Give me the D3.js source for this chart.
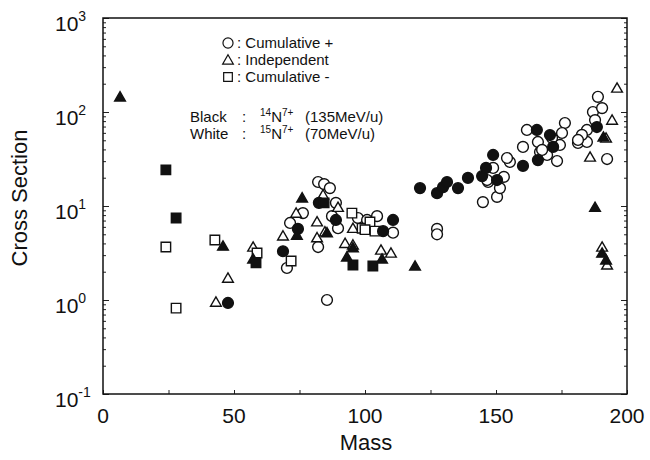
<!DOCTYPE html>
<html>
<head>
<meta charset="utf-8">
<script src="https://cdn.jsdelivr.net/npm/d3@7"></script>
<style>
  body { margin: 0; background: #fff; }
  svg text { font-family: "Liberation Sans", Arial, Helvetica, sans-serif; fill: #111; }
</style>
</head>
<body>
<div id="chart"></div>
<script>
// tick labels
var xTickVals = [0, 50, 100, 150, 200];
var yTickExps = [-1, 0, 1, 2, 3];

// 14N (black) series: [mass, cross section]
var n14CumPlus = [[47.7,0.93],[68.7,3.3],[74.4,5.7],[82.4,10.8],[88.9,7.1],[106.9,5.4],[110.7,7.1],
  [121,15.5],[127.5,13.7],[129.8,15.9],[131.3,18],[135.5,15.5],[139.3,19.9],[144.7,20.8],[146.2,25.4],
  [148.9,34.9],[150.4,18.9],[160.3,26.7],[166,30.8],[171.8,42.5],[165.6,64.4],[170.6,56.9],[188.5,69.2]];
var n14Indep = [[6.5,145],[45.8,3.75],[57.3,2.73],[74,4.9],[76,12.2],[85.5,5.2],[93.1,2.87],[95.4,3.6],
  [106.5,2.73],[119.1,2.3],[187.8,9.7],[190.5,3.16],[192,2.67],[191,54.2]];
var n14CumMinus = [[24,24.2],[27.9,7.45],[58.4,2.48],[84.4,10.8],[95.4,2.36],[103,2.3]];

// 15N (white) series
var n15CumPlus = [[70.2,2.19],[71.4,6.6],[76.3,8.4],[82.1,18],[84.4,17.1],[86.6,15.5],[88.9,10.8],
  [87.4,7.8],[89.7,5.8],[82.1,3.66],[85.5,1.0],[97.3,7.45],[100.8,7.1],[104.6,7.8],[110.7,5.2],
  [127.5,5.7],[127.5,5.0],[145,11],[150.4,12.5],[151.5,15.5],[147,18],[148.9,25.4],[155.3,29.4],
  [153,20.4],[146.6,18.9],[160.3,42.5],[166,48],[166.8,37.5],[169.5,34.9],[173.3,30.1],[174.4,44.6],
  [181.3,46.8],[184.7,48],[192.4,31.6],[188.9,145],[187,100],[190.5,110],[187.8,82],[184.7,64.4],
  [182.8,57],[181.3,50.4],[176.3,76.4],[175.2,59.8],[171.4,52.9],[161.8,64.4],[167.6,39.5],[154.2,32.4]];
var n15Indep = [[43.1,0.95],[47.7,1.71],[57.3,3.66],[68.7,4.8],[73.7,8.4],[84,13.1],[89.7,9.7],
  [81.7,6.8],[81.7,4.6],[84.7,5.3],[95.4,5.8],[92.4,4.0],[95.4,3.85],[106.1,3.4],[109.9,3.16],
  [185.9,33.2],[196.2,180],[194.3,82],[192,52.9],[190.5,3.66],[192.4,2.36]];
var n15CumMinus = [[24,3.66],[27.9,0.82],[42.7,4.35],[58.8,3.16],[71.8,2.6],[95,8.4],[98.9,5.8],
  [101.9,6.76],[100,5.6],[103.8,5.4]];

var legendItems = ["Cumulative +", "Independent", "Cumulative -"];

var margin = {top: 18, right: 23, bottom: 66, left: 103};
var width = 650 - margin.left - margin.right;
var height = 460 - margin.top - margin.bottom;

var svg = d3.select("#chart").append("svg")
    .attr("width", 650).attr("height", 460);
var g = svg.append("g").attr("transform", "translate(" + margin.left + "," + margin.top + ")");

var x = d3.scaleLinear().domain([0, 200]).range([0, width]);
var y = d3.scaleLog().domain([0.1, 1000]).range([height, 0]);

// minor + major ticks, pointing inward
var minor = y.ticks().filter(function (v) { return yTickExps.indexOf(Math.round(Math.log10(v))) < 0 || Math.abs(Math.log10(v) - Math.round(Math.log10(v))) > 1e-6; });
var majors = yTickExps.map(function (e) { return Math.pow(10, e); });

function yAxisPart(axisFn, vals, size, tx) {
  g.append("g").attr("transform", "translate(" + tx + ",0)")
    .call(axisFn(y).tickValues(vals).tickSize(size).tickFormat(""))
    .call(function (s) { s.select(".domain").remove(); });
}
yAxisPart(d3.axisLeft, minor, -3, 0);
yAxisPart(d3.axisLeft, majors, -6, 0);
yAxisPart(d3.axisRight, minor, -3, width);
yAxisPart(d3.axisRight, majors, -6, width);

g.append("g").attr("transform", "translate(0," + height + ")")
  .call(d3.axisBottom(x).tickValues(d3.range(0, 201, 25)).tickSize(-4).tickFormat(""))
  .call(function (s) { s.select(".domain").remove(); });

g.selectAll(".tick line").attr("stroke", "#222").attr("stroke-width", 1);

// frame
g.append("rect").attr("width", width).attr("height", height)
  .attr("fill", "none").attr("stroke", "#111").attr("stroke-width", 1.5);

// x tick labels
g.selectAll(".xlab").data(xTickVals).enter().append("text")
  .attr("x", function (d) { return x(d); })
  .attr("y", height + 29)
  .attr("text-anchor", "middle")
  .style("font-size", "21px")
  .text(function (d) { return d; });

// y tick labels 10^n
var yl = g.selectAll(".ylab").data(yTickExps).enter().append("text")
  .attr("x", 55 - margin.left)
  .attr("y", function (d) { return y(Math.pow(10, d)) + 13; })
  .style("font-size", "21px");
yl.append("tspan").text("10");
yl.append("tspan").attr("dy", -10).style("font-size", "14px").text(function (d) { return d; });

// axis titles
svg.append("text").attr("x", 366).attr("y", 450).attr("text-anchor", "middle")
  .style("font-size", "22px").text("Mass");
svg.append("text").attr("transform", "translate(27,198) rotate(-90)").attr("text-anchor", "middle")
  .style("font-size", "22px").text("Cross Section");

// symbols
var shapes = {circle: d3.symbol().type(d3.symbolCircle).size(92),
  triangle: d3.symbol().type(d3.symbolTriangle).size(50),
  square: d3.symbol().type(d3.symbolSquare).size(90)};

function drawSeries(data, shape, fill) {
  g.append("g").selectAll("path").data(data).enter().append("path")
    .attr("d", shapes[shape])
    .attr("transform", function (d) {
      var dy = shape === "triangle" ? 1 : 0;
      return "translate(" + x(d[0]) + "," + (y(d[1]) + dy) + ")";
    })
    .attr("fill", fill).attr("stroke", "#111").attr("stroke-width", 1.4);
}
drawSeries(n15CumPlus, "circle", "#fff");
drawSeries(n15Indep, "triangle", "#fff");
drawSeries(n15CumMinus, "square", "#fff");
drawSeries(n14CumPlus, "circle", "#111");
drawSeries(n14Indep, "triangle", "#111");
drawSeries(n14CumMinus, "square", "#111");

// legend
var lg = svg.append("g");
var legShapes = ["circle", "triangle", "square"];
legendItems.forEach(function (name, i) {
  var ly = 43 + i * 17;
  lg.append("path").attr("d", d3.symbol().type([d3.symbolCircle, d3.symbolTriangle, d3.symbolSquare][i]).size([80, 50, 75][i]))
    .attr("transform", "translate(228," + (ly + (i === 1 ? 1 : 0)) + ")")
    .attr("fill", "#fff").attr("stroke", "#111").attr("stroke-width", 1.2);
  lg.append("text").attr("x", 237).attr("y", ly + 5).style("font-size", "15px")
    .text(":  " + name);
});

var beams = [["Black", "14", "(135MeV/u)"], ["White", "15", "(70MeV/u)"]];
beams.forEach(function (b, i) {
  var by = 122 + i * 17;
  lg.append("text").attr("x", 190).attr("y", by).style("font-size", "15px").text(b[0]);
  lg.append("text").attr("x", 242).attr("y", by).style("font-size", "15px").text(":");
  var t = lg.append("text").attr("x", 260).attr("y", by).style("font-size", "15px");
  t.append("tspan").attr("dy", -6).style("font-size", "10px").text(b[1]);
  t.append("tspan").attr("dy", 6).text("N");
  t.append("tspan").attr("dy", -6).style("font-size", "10px").text("7+");
  lg.append("text").attr("x", 305).attr("y", by).style("font-size", "15px").text(b[2]);
});
</script>
</body>
</html>
